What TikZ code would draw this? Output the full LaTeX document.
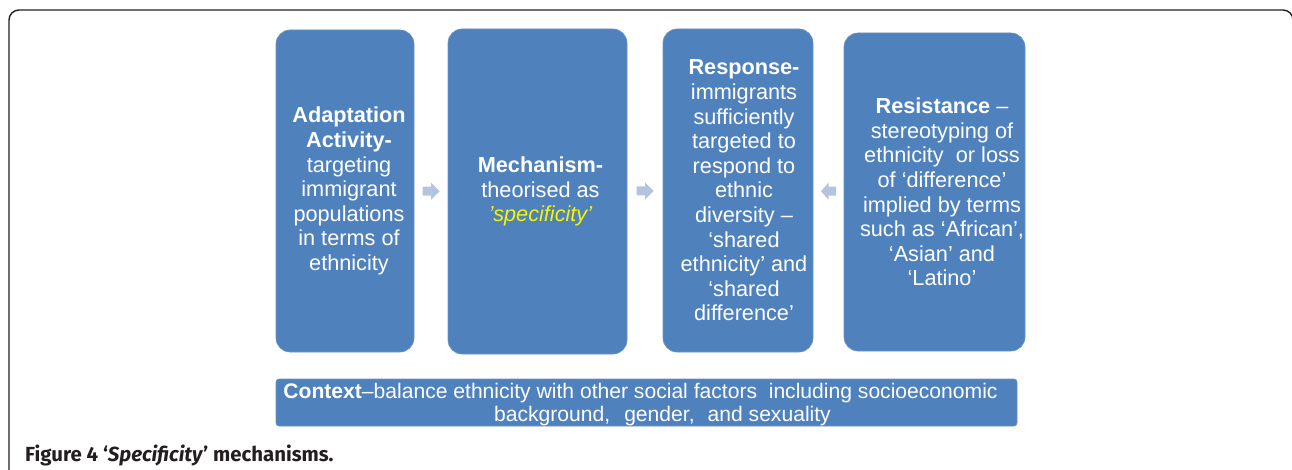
\documentclass[tikz,border=0pt]{standalone}
\usepackage{fontspec}
\setmainfont{Liberation Sans}
\newfontfamily\capfont{Fira Sans}
\usetikzlibrary{calc}
\definecolor{boxblue}{HTML}{4F81BD}
\definecolor{boxedge}{HTML}{6A93C8}
\definecolor{arrowc}{HTML}{B4C4DF}
\definecolor{framec}{HTML}{231F20}
\definecolor{hiyellow}{HTML}{F5F500}
\tikzset{
  stagebox/.style={fill=boxblue, draw=boxedge, line width=0.6pt, rounded corners=14pt, inner sep=0pt},
  stagetext/.style={text=white, align=center, inner sep=0pt,
    font=\fontsize{21.7}{24.6}\selectfont},
  ctxbox/.style={fill=boxblue, draw=boxedge, line width=0.6pt, rounded corners=3pt, inner sep=0pt},
  ctxtext/.style={text=white, inner sep=0pt, anchor=base,
    font=\fontsize{21.1}{23}\selectfont},
  blockarrow/.style={fill=arrowc},
  framepath/.style={draw=framec, line width=1.4pt, rounded corners=10pt},
}
\begin{document}
\begin{tikzpicture}[x=1pt, y=-1pt]
\useasboundingbox (0,0) rectangle (1292,470);
\draw[framepath] (9,475) -- (9,10) -- (1293,10) -- (1293,475);

\node[stagebox, minimum width=138pt, minimum height=322pt] (b1) at (345,191) {};
\node[stagebox, minimum width=179pt, minimum height=325pt] (b2) at (537.5,191.5) {};
\node[stagebox, minimum width=150pt, minimum height=323pt] (b3) at (738,190.5) {};
\node[stagebox, minimum width=181pt, minimum height=318pt] (b4) at (934.5,192) {};

\node[stagetext] (t1) at ([xshift=4pt]b1.center)
  {\textbf{Adaptation}\\\textbf{Activity-}\\targeting\\immigrant\\populations\\in terms of\\ethnicity};
\node[stagetext] (t2) at ([xshift=3pt]b2.center)
  {\textbf{Mechanism-}\\theorised as\\\textcolor{hiyellow}{\itshape ’specificity’}};
\node[stagetext] (t3) at ([xshift=6pt]b3.center)
  {\textbf{Response-}\\immigrants\\sufficiently\\targeted to\\respond to\\ethnic\\diversity –\\‘shared\\ethnicity’ and\\‘shared\\difference'};
\node[stagetext] (t4) at ([xshift=7.5pt]b4.center)
  {\textbf{Resistance} –\\stereotyping of\\ethnicity~ or loss\\of ‘difference’\\implied by terms\\such as ‘African’,\\‘Asian’ and\\‘Latino’};

\node[ctxbox, minimum width=741pt, minimum height=47pt] (ctx) at (646.5,402.5) {};
\node[ctxtext] (c1) at ([xshift=-6pt, yshift=4pt]ctx.center)
  {\textbf{Context}–balance ethnicity with other social factors~ including socioeconomic};
\node[ctxtext] (c2) at ([xshift=16pt, yshift=-19pt]ctx.center)
  {background,\hspace{14pt}gender,\hspace{13pt}and sexuality};

\coordinate (a1) at ($(b1.east)!0.5!(b2.west)$);
\coordinate (a2) at ($(b2.east)!0.5!(b3.west)$);
\coordinate (a3) at ($(b3.east)!0.5!(b4.west)$);
\fill[blockarrow, shift={(a1)}] (-8.5,-4.5) -- (0,-4.5) -- (0,-8.5) -- (8.5,0) -- (0,8.5) -- (0,4.5) -- (-8.5,4.5) -- cycle;
\fill[blockarrow, shift={(a2)}] (-8.5,-4.5) -- (0,-4.5) -- (0,-8.5) -- (8.5,0) -- (0,8.5) -- (0,4.5) -- (-8.5,4.5) -- cycle;
\fill[blockarrow, shift={(a3)}] (7.5,-4.5) -- (0,-4.5) -- (0,-8.5) -- (-7.5,0) -- (0,8.5) -- (0,4.5) -- (7.5,4.5) -- cycle;

\node[anchor=base west, inner sep=0pt, font=\capfont\bfseries\fontsize{20.4}{24}\selectfont, text=framec] (cap) at (25,461)
  {Figure 4 ‘\textit{Specificity}’ mechanisms.};
\end{tikzpicture}
\end{document}
